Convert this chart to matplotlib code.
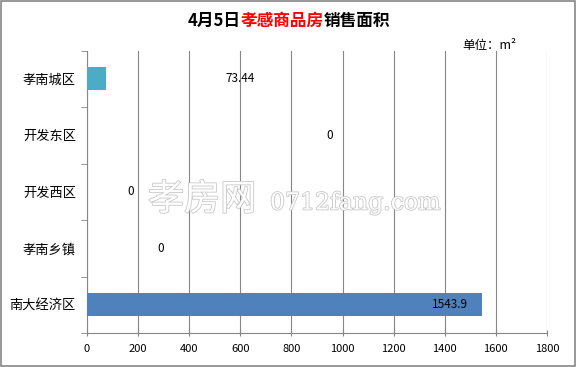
import matplotlib
matplotlib.use("Agg")
import matplotlib.pyplot as plt
import matplotlib.patheffects as pe
from matplotlib.offsetbox import TextArea, HPacker, AnchoredOffsetbox

plt.rcParams['font.family'] = ['Noto Sans CJK SC', 'DejaVu Sans']

categories = ["孝南城区", "开发东区", "开发西区", "孝南乡镇", "南大经济区"]
values = [73.44, 0, 0, 0, 1543.9]
label_x = [600, 950, 170, 290, 1420]
bar_colors = ["#4BACC6", "#4F81BD", "#4F81BD", "#4F81BD", "#4F81BD"]
xticks = [0, 200, 400, 600, 800, 1000, 1200, 1400, 1600, 1800]

fig = plt.figure(figsize=(5.77, 3.67), dpi=100)
ax = fig.add_axes([87/577, 1-333/367, 460/577, (333-50.5)/367])

ypos = list(range(len(categories)))
ax.barh(ypos, values, height=0.4, color=bar_colors, zorder=3)
for y, v, lx in zip(ypos, values, label_x):
    s = f"{v:g}" if v != 0 else "0"
    ax.text(lx, y, s, ha='center', va='center', fontsize=8.5, color='black', zorder=4)

ax.set_ylim(len(categories)-0.5, -0.5)
ax.set_xlim(0, 1800)
ax.set_xticks(xticks)
ax.set_xticklabels([str(t) for t in xticks], fontsize=8)
ax.set_yticks(ypos)
ax.set_yticklabels(categories, fontsize=9.5)
ax.tick_params(axis='y', which='major', length=0, pad=8)
ax.set_yticks([i - 0.5 for i in range(len(categories)+1)], minor=True)
ax.tick_params(axis='y', which='minor', length=4, color='#868686', direction='out')
ax.tick_params(axis='x', length=4, color='#868686', direction='inout', pad=6)
ax.grid(axis='x', color='#868686', linewidth=0.8, zorder=0)
for sp in ['top', 'right']:
    ax.spines[sp].set_visible(False)
for sp in ['left', 'bottom']:
    ax.spines[sp].set_color('#868686')

# watermark
fig.text(148/577, 1-200/367, "孝房网", fontsize=26, color='white', va='center', ha='left',
         path_effects=[pe.withStroke(linewidth=1.2, foreground='#c8c8c8')], zorder=10)
fig.text(270/577, 1-203/367, "0712fang.com", fontsize=17, color='white', va='center', ha='left',
         family=['DejaVu Serif'],
         path_effects=[pe.withStroke(linewidth=1.2, foreground='#c8c8c8')], zorder=10)

# title with coloured parts
parts = [("4月5日", 'black'), ("孝感商品房", 'red'), ("销售面积", 'black')]
boxes = [TextArea(s, textprops=dict(color=c, fontsize=12, fontweight='bold')) for s, c in parts]
pack = HPacker(children=boxes, align='center', pad=0, sep=0)
ab = AnchoredOffsetbox(loc='center', child=pack, bbox_to_anchor=(0.5, 1-21/367),
                       bbox_transform=fig.transFigure, frameon=False, pad=0, borderpad=0)
fig.add_artist(ab)

fig.text(462/577, 1-45/367, "单位：m²", fontsize=9, ha='left', va='center')

# figure border
fig.patches.append(plt.Rectangle((0.002, 0.003), 0.995, 0.994, transform=fig.transFigure,
                                 fill=False, edgecolor='#868686', linewidth=1.2))

fig.savefig("out.png", dpi=100)
